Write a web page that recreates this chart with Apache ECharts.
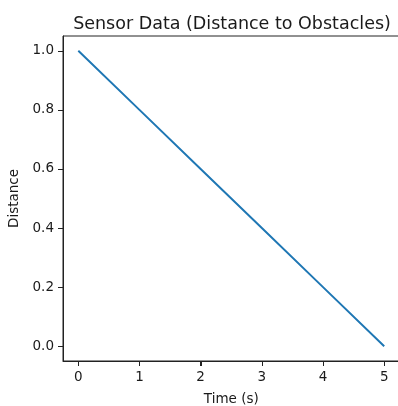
<!DOCTYPE html>
<html>
<head>
<meta charset="utf-8">
<script src="https://cdn.jsdelivr.net/npm/echarts@6/dist/echarts.min.js"></script>
<style>html,body{margin:0;padding:0;background:#fff;}#c{width:398px;height:406px;}</style>
</head>
<body>
<div id="c"></div>
<script>
const titleText = "Sensor Data (Distance to Obstacles)";
const xLabel = "Time (s)";
const yLabel = "Distance";
const time = [0, 1, 2, 3, 4, 5];
const distance = [1.0, 0.8, 0.6, 0.4, 0.2, 0.0];
const xTicks = [0, 1, 2, 3, 4, 5];
const yTicks = [0.0, 0.2, 0.4, 0.6, 0.8, 1.0];

const font = "DejaVu Sans";
const X_MIN = -0.25, X_MAX = 5.25, Y_MIN = -0.05, Y_MAX = 1.05;
const TICK_LEN = 5;
const chart = echarts.init(document.getElementById('c'), null, {renderer: 'canvas'});

chart.setOption({
  animation: false,
  title: {
    text: titleText, left: 227, top: 10, textAlign: 'center',
    textStyle: {fontFamily: font, fontSize: 17.5, fontWeight: 'normal', color: '#1a1a1a'}
  },
  grid: {left: 63, top: 36, width: 336.5, height: 325, show: true, borderColor: '#222', borderWidth: 1, backgroundColor: 'transparent', outerBoundsMode: 'none', containLabel: false},
  xAxis: {
    type: 'value', min: X_MIN, max: X_MAX,
    name: xLabel, nameLocation: 'middle', nameGap: 31,
    nameTextStyle: {fontFamily: font, fontSize: 13.5, color: '#1a1a1a'},
    axisLine: {show: true, onZero: false, lineStyle: {color: '#222'}},
    splitLine: {show: false},
    axisTick: {show: true, length: TICK_LEN, lineStyle: {color: '#222'}, customValues: xTicks},
    axisLabel: {fontFamily: font, fontSize: 13.5, color: '#1a1a1a', margin: 9, customValues: xTicks, formatter: v => String(v)}
  },
  yAxis: {
    type: 'value', min: Y_MIN, max: Y_MAX,
    name: yLabel, nameLocation: 'middle', nameGap: 42, nameRotate: 90,
    nameTextStyle: {fontFamily: font, fontSize: 13.5, color: '#1a1a1a'},
    axisLine: {show: true, onZero: false, lineStyle: {color: '#222'}},
    splitLine: {show: false},
    axisTick: {show: true, length: TICK_LEN, lineStyle: {color: '#222'}, customValues: yTicks},
    axisLabel: {fontFamily: font, fontSize: 13.5, color: '#1a1a1a', margin: 9, customValues: yTicks, formatter: v => v.toFixed(1)}
  },
  series: [
    {
      type: 'line', data: time.map((t, i) => [t, distance[i]]),
      showSymbol: false, lineStyle: {color: '#1f77b4', width: 2}, itemStyle: {color: '#1f77b4'}
    }
  ]
});

// Tick marks placed through the chart's own scales (filled rects)
const tickGraphics = [];
xTicks.forEach(v => {
  const p = chart.convertToPixel({xAxisIndex: 0, yAxisIndex: 0}, [v, Y_MIN]);
  tickGraphics.push({type: 'rect', z: 100,
    shape: {x: Math.round(p[0]), y: Math.round(p[1]), width: 1, height: TICK_LEN},
    style: {fill: '#222'}});
});
yTicks.forEach(v => {
  const p = chart.convertToPixel({xAxisIndex: 0, yAxisIndex: 0}, [X_MIN, v]);
  tickGraphics.push({type: 'rect', z: 100,
    shape: {x: Math.round(p[0]) - TICK_LEN, y: Math.round(p[1]), width: TICK_LEN, height: 1},
    style: {fill: '#222'}});
});
chart.setOption({graphic: tickGraphics});
</script>
</body>
</html>
